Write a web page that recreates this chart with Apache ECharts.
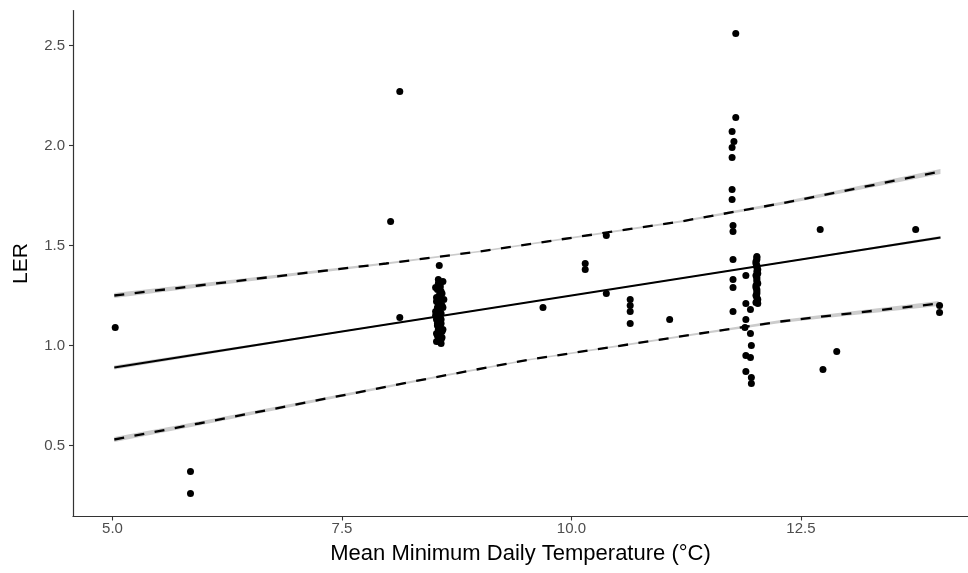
<!DOCTYPE html>
<html>
<head>
<meta charset="utf-8">
<script src="https://cdn.jsdelivr.net/npm/echarts@6/dist/echarts.min.js"></script>
<style>html,body{margin:0;padding:0;background:#fff}#c{width:968px;height:573px}</style>
</head>
<body>
<div id="c"></div>
<script>
// ---- data ----
const xTicks = [5.0, 7.5, 10.0, 12.5];
const yTicks = [0.5, 1.0, 1.5, 2.0, 2.5];

const pointX = [
  5.03, 5.85, 5.85, 8.03, 8.13, 8.13, 8.56,
  8.55, 8.57, 8.54, 8.58, 8.56, 8.53, 8.57, 8.55, 8.59, 8.54, 8.56, 8.58, 8.55, 8.57,
  8.53, 8.56, 8.58, 8.54, 8.57, 8.55, 8.59, 8.56, 8.54, 8.57, 8.55, 8.58, 8.56, 8.53, 8.57, 8.55,
  8.60, 8.52, 8.59, 8.53, 8.60, 8.52, 8.58, 8.54, 8.60, 8.53, 8.59, 8.55, 8.61, 8.52, 8.58, 8.57,
  9.69, 10.15, 10.15, 10.38, 10.38, 10.64, 10.64, 10.64, 10.64, 11.07,
  11.79, 11.79, 11.75, 11.77, 11.75, 11.75, 11.75, 11.75, 11.76, 11.76, 11.76, 11.76, 11.76, 11.76,
  11.90, 11.90, 11.95, 11.90, 11.89, 11.95, 11.96, 11.90, 11.95, 11.90, 11.96, 11.96,
  12.02, 12.02, 12.01, 12.02, 12.03, 12.02, 12.01, 12.02, 12.02, 12.03, 12.01, 12.02, 12.02, 12.01, 12.03, 12.02,
  12.02, 12.01, 12.02, 12.03, 12.02, 12.01, 12.02, 12.02, 12.03, 12.01,
  12.71, 12.74, 12.89, 13.75, 14.01, 14.01
];
const pointY = [
  1.09, 0.37, 0.26, 1.62, 2.27, 1.14, 1.40,
  1.31, 1.30, 1.28, 1.27, 1.25, 1.24, 1.23, 1.21, 1.20, 1.19, 1.18, 1.16, 1.15, 1.14,
  1.13, 1.12, 1.11, 1.10, 1.09, 1.08, 1.07, 1.06, 1.05, 1.05, 1.04, 1.03, 1.02, 1.02, 1.29, 1.17,
  1.32, 1.29, 1.26, 1.22, 1.19, 1.17, 1.13, 1.11, 1.08, 1.06, 1.04, 1.33, 1.23, 1.15, 1.01, 1.26,
  1.19, 1.41, 1.38, 1.55, 1.26, 1.23, 1.20, 1.17, 1.11, 1.13,
  2.56, 2.14, 2.07, 2.02, 1.99, 1.94, 1.78, 1.73, 1.60, 1.57, 1.43, 1.33, 1.29, 1.17,
  1.35, 1.21, 1.18, 1.13, 1.09, 1.06, 1.00, 0.95, 0.94, 0.87, 0.84, 0.81,
  1.44, 1.43, 1.41, 1.40, 1.38, 1.37, 1.35, 1.34, 1.32, 1.31, 1.29, 1.28, 1.26, 1.25, 1.23, 1.22,
  1.445, 1.42, 1.39, 1.36, 1.33, 1.30, 1.27, 1.24, 1.21, 1.215,
  1.58, 0.88, 0.97, 1.58, 1.20, 1.165
];

// fitted lines (median + upper/lower quantiles) and their band half-widths
const midX   = [5.02, 7.5, 10.0, 12.5, 14.02];
const midY   = [0.89, 1.07, 1.25, 1.43, 1.54];
const midBand = [0.010, 0.004, 0.003, 0.004, 0.008];
const upperX = [5.02, 5.94, 7.98, 9.0, 11.19, 12.28, 12.72, 14.02];
const upperY = [1.25, 1.30, 1.41, 1.47, 1.62, 1.71, 1.75, 1.87];
const upperBand = [0.013, 0.010, 0.005, 0.004, 0.005, 0.007, 0.009, 0.013];
const lowerX = [5.02, 5.94, 8.5, 9.55, 11.4, 12.28, 12.72, 14.0];
const lowerY = [0.53, 0.61, 0.84, 0.93, 1.06, 1.12, 1.144, 1.21];
const lowerBand = [0.013, 0.010, 0.005, 0.004, 0.005, 0.007, 0.009, 0.013];

const zip = (a, b) => a.map((v, i) => [v, b[i]]);

const chart = echarts.init(document.getElementById('c'), null, {renderer: 'canvas'});
const FONT = '"Liberation Sans", Arial, sans-serif';

const lineBase = {type: 'line', showSymbol: false, symbol: 'none', silent: true, animation: false};

function band(xs, ys, hw) {
  return {
    type: 'custom', silent: true, z: 1, animation: false,
    data: [[xs[0], ys[0]]],
    renderItem: function (params, api) {
      const pts = [];
      for (let i = 0; i < xs.length; i++) pts.push(api.coord([xs[i], ys[i] + hw[i]]));
      for (let i = xs.length - 1; i >= 0; i--) pts.push(api.coord([xs[i], ys[i] - hw[i]]));
      return {type: 'polygon', shape: {points: pts}, style: {fill: '#cccccc', stroke: null}};
    }
  };
}

chart.setOption({
  animation: false,
  backgroundColor: '#ffffff',
  grid: {left: 73, right: 0, top: 10.5, bottom: 56.5, containLabel: false},
  xAxis: {
    type: 'value', min: 4.57, max: 14.32,
    name: 'Mean Minimum Daily Temperature (°C)',
    nameLocation: 'middle', nameGap: 26,
    nameTextStyle: {color: '#000', fontSize: 22, fontFamily: FONT},
    axisLine: {show: true, lineStyle: {color: '#333333', width: 1.2}},
    axisTick: {show: true, length: 4, customValues: xTicks, lineStyle: {color: '#333333', width: 1.1}},
    axisLabel: {customValues: xTicks, margin: 5, color: '#4d4d4d', fontSize: 15, fontFamily: FONT,
      formatter: v => Number(v).toFixed(1)},
    splitLine: {show: false}
  },
  yAxis: {
    type: 'value', min: 0.145, max: 2.675,
    name: 'LER',
    nameLocation: 'middle', nameGap: 41, nameRotate: 90,
    nameTextStyle: {color: '#000', fontSize: 21, fontFamily: FONT},
    axisLine: {show: true, lineStyle: {color: '#333333', width: 1.2}},
    axisTick: {show: true, length: 4, customValues: yTicks, lineStyle: {color: '#333333', width: 1.1}},
    axisLabel: {customValues: yTicks, margin: 8, color: '#4d4d4d', fontSize: 15, fontFamily: FONT,
      formatter: v => Number(v).toFixed(1)},
    splitLine: {show: false}
  },
  series: [
    band(upperX, upperY, upperBand),
    band(lowerX, lowerY, lowerBand),
    band(midX, midY, midBand),
    {
      type: 'scatter', data: zip(pointX, pointY), symbol: 'circle', symbolSize: 7, z: 3,
      itemStyle: {color: '#000000', opacity: 1}
    },
    Object.assign({}, lineBase, {data: zip(upperX, upperY), z: 4, lineStyle: {color: '#000', width: 2.3, type: [10, 10.5]}}),
    Object.assign({}, lineBase, {data: zip(lowerX, lowerY), z: 4, lineStyle: {color: '#000', width: 2.3, type: [10, 10.5]}}),
    Object.assign({}, lineBase, {data: zip(midX, midY), z: 4, lineStyle: {color: '#000', width: 2.2}})
  ]
});
</script>
</body>
</html>
